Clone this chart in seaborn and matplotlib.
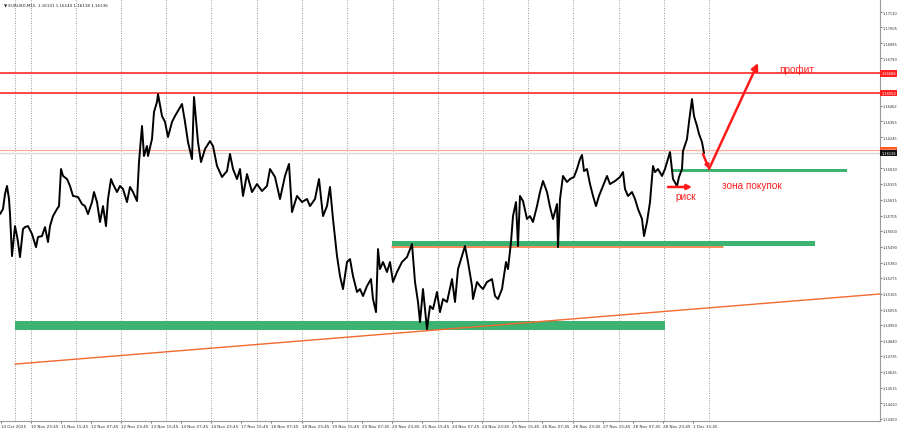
import matplotlib
matplotlib.use("Agg")
import matplotlib.pyplot as plt
from matplotlib.patches import Rectangle
import seaborn as sns
import pandas as pd

# ---------------- data ----------------
bar_x = [0, 3, 5, 7, 9, 10, 12, 15, 17, 18, 20, 23, 25, 28, 32, 36, 38, 42, 45, 48,
         50, 53, 57, 59, 61, 63, 67, 70, 73, 78, 82, 85, 88, 92, 94, 97, 100, 103, 106, 108,
         111, 113, 117, 120, 123, 127, 130, 133, 137, 139, 142, 144, 147, 148, 152, 154, 157, 158, 162, 165,
         168, 172, 175, 182, 185, 188, 192, 194, 198, 201, 205, 210, 213, 217, 222, 227, 230, 233, 237, 240,
         243, 247, 252, 257, 262, 267, 270, 275, 280, 285, 289, 292, 297, 302, 307, 310, 315, 319, 323, 327,
         330, 333, 337, 340, 343, 347, 350, 353, 357, 360, 363, 367, 371, 373, 376, 378, 380, 383, 387, 390,
         393, 397, 402, 407, 412, 415, 418, 420, 423, 425, 427, 430, 433, 437, 440, 443, 447, 452, 455, 458,
         462, 465, 468, 472, 473, 477, 480, 483, 487, 492, 495, 498, 502, 506, 508, 511, 513, 516, 518, 520,
         523, 527, 530, 533, 537, 540, 543, 547, 550, 553, 557, 558, 560, 563, 567, 570, 574, 577, 580, 582,
         584, 587, 590, 593, 596, 599, 603, 607, 610, 615, 620, 623, 625, 628, 632, 635, 638, 642, 644, 647,
         650, 653, 655, 658, 662, 665, 668, 670, 673, 677, 679, 682, 683, 687, 689, 692, 694, 697, 699, 702,
         704]
close = [1.15715, 1.15750, 1.15853, 1.15909, 1.15819, 1.15715, 1.15425, 1.15632, 1.15563, 1.15522,
         1.15418, 1.15612, 1.15625, 1.15632, 1.15577, 1.15487, 1.15556, 1.15563, 1.15625, 1.15522,
         1.15632, 1.15701, 1.15750, 1.15770, 1.16026, 1.15978, 1.15957, 1.15909, 1.15840, 1.15833,
         1.15784, 1.15770, 1.15715, 1.15798, 1.15867, 1.15798, 1.15660, 1.15770, 1.15632, 1.15819,
         1.15957, 1.15922, 1.15867, 1.15909, 1.15888, 1.15798, 1.15902, 1.15867, 1.15805, 1.16074,
         1.16323, 1.16116, 1.16185, 1.16116, 1.16233, 1.16420, 1.16489, 1.16544, 1.16392, 1.16351,
         1.16247, 1.16351, 1.16392, 1.16475, 1.16351, 1.16212, 1.16095, 1.16523, 1.16212, 1.16074,
         1.16164, 1.16219, 1.16185, 1.16047, 1.15971, 1.16012, 1.16130, 1.16026, 1.15957, 1.16026,
         1.15840, 1.15991, 1.15867, 1.15922, 1.15874, 1.15909, 1.16026, 1.15971, 1.15819, 1.15978,
         1.16061, 1.15729, 1.15840, 1.15798, 1.15819, 1.15770, 1.15819, 1.15957, 1.15701, 1.15770,
         1.15902, 1.15681, 1.15425, 1.15287, 1.15197, 1.15384, 1.15404, 1.15287, 1.15177, 1.15197,
         1.15149, 1.15218, 1.15266, 1.15128, 1.15038, 1.15473, 1.15335, 1.15384, 1.15315, 1.15384,
         1.15246, 1.15315, 1.15384, 1.15418, 1.15508, 1.15246, 1.15108, 1.14969, 1.15197, 1.15059,
         1.14921, 1.15080, 1.15059, 1.15177, 1.15038, 1.15128, 1.15108, 1.15266, 1.15108, 1.15335,
         1.15425, 1.15494, 1.15384, 1.15218, 1.15128, 1.15246, 1.15218, 1.15197, 1.15246, 1.15266,
         1.15149, 1.15128, 1.15197, 1.15384, 1.15335, 1.15522, 1.15701, 1.15798, 1.15494, 1.15840,
         1.15805, 1.15681, 1.15701, 1.15660, 1.15770, 1.15867, 1.15943, 1.15867, 1.15764, 1.15681,
         1.15784, 1.15487, 1.15819, 1.15978, 1.15936, 1.15957, 1.15971, 1.16026, 1.16095, 1.16123,
         1.16012, 1.16026, 1.15922, 1.15840, 1.15770, 1.15840, 1.15909, 1.15978, 1.15922, 1.15943,
         1.15971, 1.16005, 1.15888, 1.15840, 1.15867, 1.15819, 1.15750, 1.15681, 1.15563, 1.15660,
         1.15798, 1.16047, 1.16005, 1.16026, 1.15978, 1.16026, 1.16095, 1.16143, 1.15957, 1.15909,
         1.15971, 1.16026, 1.16150, 1.16233, 1.16351, 1.16509, 1.16392, 1.16323, 1.16268, 1.16212,
         1.16136]

title_text = "\u25bc EURUSD,M15  1.16131 1.16140 1.16118 1.16136"

y_ticks = [1.17110, 1.17005, 1.16895, 1.16790, 1.16462, 1.16355, 1.16245, 1.16030, 1.15925,
           1.15815, 1.15705, 1.15600, 1.15490, 1.15380, 1.15275, 1.15165, 1.15055, 1.14950,
           1.14840, 1.14735, 1.14625, 1.14515, 1.14410, 1.14300]

x_tick_pos = [1, 31, 61, 91, 121, 151, 181, 211, 241, 271, 302, 332, 362, 392, 422, 452,
              482, 512, 542, 573, 603, 633, 663, 693]
x_tick_labels = ["14 Oct 2025", "10 Nov 23:45", "11 Nov 15:45", "12 Nov 07:45", "12 Nov 23:45",
                 "13 Nov 15:45", "14 Nov 07:45", "14 Nov 23:45", "17 Nov 15:45", "18 Nov 07:45",
                 "18 Nov 23:45", "19 Nov 15:45", "20 Nov 07:45", "20 Nov 23:45", "21 Nov 15:45",
                 "24 Nov 07:45", "24 Nov 23:45", "25 Nov 15:45", "26 Nov 07:45", "26 Nov 23:45",
                 "27 Nov 15:45", "28 Nov 07:45", "28 Nov 23:45", "1 Dec 15:45"]

day_separators = [15, 31, 76, 121, 166, 211, 257, 302, 347, 393, 438, 483, 528, 573, 619, 664, 709]

# horizontal levels
profit_levels = [1.16686, 1.16552]
level_labels = ["1.16686", "1.16552"]
ask_level = 1.16160
bid_level = 1.16136

# zones: (x_start, x_end, low, high)
zone_low = (15, 665, 1.14914, 1.14976)
zone_mid = (392, 815, 1.15494, 1.15532)
zone_buy = (672, 847, 1.16005, 1.16029)
mid_orange = (392, 723, 1.15487)

trend_x = [15, 880]
trend_y = [1.14679, 1.15163]

# arrows
v_start = (703, 1.16130)
v_bottom = (709, 1.16026)
v_top = (758, 1.16758)
risk_start = (668, 1.15902)
risk_end = (692, 1.15902)

# ---------------- figure ----------------
sns.set_style("white")
plt.rcParams['font.family'] = ['DejaVu Sans']

fig = plt.figure(figsize=(9, 4.31), dpi=100)
ax = fig.add_axes([0, 9 / 431, 880 / 900, 422 / 431])
ymin, ymax = 1.14286, 1.17200
ax.set_xlim(0, 880)
ax.set_ylim(ymin, ymax)

for xs in day_separators:
    ax.axvline(xs, color="#8a8a8a", lw=0.6, ls=(0, (1.2, 1.8)), zorder=1)

RED = "#ff2a2a"
for lv in profit_levels:
    ax.axhline(lv, color=RED, lw=1.2, zorder=2)
ax.axhline(ask_level, color="#ffae96", lw=0.9, zorder=2)
ax.axhline(bid_level, color="#d9d9d9", lw=1.0, zorder=2)

GREEN = "#3cb371"
for (x0, x1, lo, hi) in (zone_low, zone_mid, zone_buy):
    ax.add_patch(Rectangle((x0, lo), x1 - x0, hi - lo, facecolor=GREEN, edgecolor="none", zorder=3))
ORANGE = "#f26a2e"
ax.plot([mid_orange[0], mid_orange[1]], [mid_orange[2], mid_orange[2]], color=ORANGE, lw=1.1, zorder=3)
ax.plot(trend_x, trend_y, color=ORANGE, lw=1.0, zorder=3)

df = pd.DataFrame({"bar": bar_x, "price": close})
sns.lineplot(data=df, x="bar", y="price", ax=ax, color="black", lw=1.4,
             estimator=None, sort=False, zorder=4)
ax.set_xlabel("")
ax.set_ylabel("")

# arrows
ap = dict(arrowstyle="-|>", color="#ff1a1a", lw=1.8, shrinkA=0, shrinkB=0)
ax.annotate("", xy=v_bottom, xytext=v_start, arrowprops=dict(ap, mutation_scale=5), zorder=6)
ax.annotate("", xy=v_top, xytext=v_bottom, arrowprops=dict(ap, mutation_scale=10), zorder=6)
ax.annotate("", xy=risk_end, xytext=risk_start, arrowprops=dict(ap, mutation_scale=7), zorder=6)

tf = dict(color="#ff2020", fontsize=7.2, family=["Liberation Sans", "DejaVu Sans"],
          ha="center", va="center", zorder=7)
ax.text(797, 1.16717, "профит", **tf)
ax.text(752, 1.15916, "зона покупок", **tf)
ax.text(686, 1.15840, "риск", **tf)

# axes styling
for s in ("top", "left"):
    ax.spines[s].set_visible(False)
for s in ("right", "bottom"):
    ax.spines[s].set_color("#9a9a9a")
    ax.spines[s].set_linewidth(0.8)

ax.yaxis.tick_right()
ax.set_yticks(y_ticks)
ax.set_yticklabels([f"{v:.5f}" for v in y_ticks])
ax.tick_params(axis="y", labelsize=2.6, length=1.2, width=0.5, pad=0.8,
               colors="#333333", right=True, left=False)
ax.set_xticks(x_tick_pos)
ax.set_xticklabels(x_tick_labels)
for lbl in ax.get_xticklabels():
    lbl.set_ha("left")
ax.tick_params(axis="x", labelsize=3.0, length=1.5, width=0.5, pad=1,
               colors="#333333", bottom=True)

# price label boxes on right axis
def box(val, txt, bg):
    ax.text(1.0017, val, txt, transform=ax.get_yaxis_transform(), fontsize=2.6,
            color="white", ha="left", va="center", zorder=8, clip_on=False,
            bbox=dict(boxstyle="square,pad=0.3", facecolor=bg, edgecolor="none"))

for lv, lab in zip(profit_levels, level_labels):
    box(lv, lab, "#ff2020")
box(ask_level, f"{ask_level:.5f}", "#ff5a28")
box(bid_level, f"{bid_level:.5f}", "#111111")

fig.text(0.004, 0.993, title_text, fontsize=3.0, color="#222222", ha="left", va="top")

fig.savefig("out.png", dpi=100)
